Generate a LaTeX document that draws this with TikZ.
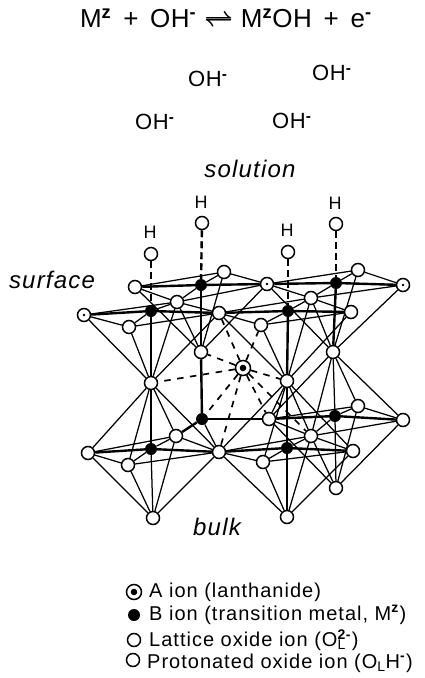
\documentclass[tikz,border=0pt]{standalone}
\usepackage{fontspec}
\setmainfont{Liberation Sans}
\usetikzlibrary{backgrounds}
\tikzset{
    oxide/.style={circle,draw,fill=white,line width=1.5pt,inner sep=0pt,minimum size=13pt},
    core/.style={circle,fill=black,inner sep=0pt,minimum size=#1},
    protonated/.style={oxide,label={[core=2.6pt]center:{}}},
    bion/.style={circle,fill=black,inner sep=0pt,minimum size=12pt},
    aion/.style={oxide,minimum size=15pt,label={[core=6.6pt]center:{}}},
    bond/.style={line width=1.25pt},
    heavy/.style={line width=2.4pt},
    hbond/.style={line width=2.4pt,dash pattern=on 7pt off 4pt},
    abond/.style={line width=1.7pt,dash pattern=on 6.5pt off 6.5pt},
    txt/.style={inner sep=0pt,font=\fontsize{22}{22}\selectfont\addfontfeatures{LetterSpace=3}},
    htxt/.style={inner sep=0pt,font=\fontsize{18}{18}\selectfont},
    place/.style={inner sep=0pt,font=\fontsize{24}{24}\selectfont\itshape\addfontfeatures{LetterSpace=5}},
    keytxt/.style={inner sep=0pt,anchor=west,font=\fontsize{20}{22}\selectfont\addfontfeatures{LetterSpace=5}},
}
\newcommand{\chg}[1]{\textsuperscript{\textbf{#1}}}
\begin{document}
\begin{tikzpicture}[x=1pt,y=-1pt]
    \useasboundingbox (0,0) rectangle (424,678);
    % oxide ions
    \foreach \name/\x/\y in {ua/135/287,ub/224/272,uc/358/270,ud/177/302,ue/311/298,uf/219/313,ug/351/312,uh/129/327,ui/261/325,
        ma/151/383,mb/201/352,mc/287/381,md/333/352,la/88/453,lb/176/436,lc/128/465,ld/219/452,le/269/419,lf/311/436,
        lg/358/406,lh/403/420,li/353/451,lj/263/462,lk/153/518,ll/287/517,lm/336/488,oa/151/254,ob/202/223,oc/288/252,od/336/224}
        \node[oxide] (\name) at (\x,\y) {};
    \foreach \name/\x/\y in {pa/84/315,pb/267/284,pc/403/285}
        \node[protonated] (\name) at (\x,\y) {};
    % B ions
    \foreach \name/\x/\y in {bua/151/311,bub/201/285,buc/288/311,bud/336/283,bla/151/449,blb/202/419,blc/287/448,bld/335/416}
        \node[bion] (\name) at (\x,\y) {};
    \node[aion] (aa) at (243,368) {};
    \begin{pgfonlayer}{background}
        % equator, then metal to equator, then apex fans
        \foreach \b/\l/\f/\r/\k in {bua/pa/uh/uf/ud,bub/ua/ud/pb/ub,buc/uf/ui/ug/ue,bud/pb/ue/pc/uc,
            bla/la/lc/ld/lb,blc/ld/lj/li/lf,bld/le/lf/lh/lg}{
            \draw[bond] (\l) -- (\f) -- (\r) -- (\k) -- (\l);
            \draw[heavy] (\l) -- (\b) -- (\r);
            \draw[bond] (\f) -- (\b) -- (\k);
        }
        \foreach \a/\l/\f/\r/\k in {ma/pa/uh/uf/ud,mb/ua/ud/pb/ub,mc/uf/ui/ug/ue,md/pb/ue/pc/uc,
            ma/la/lc/ld/lb,lk/la/lc/ld/lb,mc/ld/lj/li/lf,ll/ld/lj/li/lf,md/le/lf/lh/lg,lm/le/lf/lh/lg}
            \foreach \i in {\l,\f,\r,\k}
                \draw[bond] (\a) -- (\i);
        \foreach \a/\b in {bua/ma,bub/mb,buc/mc,bud/md,mb/blb,blb/le,blb/lb}
            \draw[heavy] (\a) -- (\b);
        \foreach \a/\b in {bla/ma,bla/lk,blc/mc,blc/ll,bld/md,bld/lm,blb/ld,mc/le}
            \draw[bond] (\a) -- (\b);
        \foreach \a/\b in {oa/bua,ob/bub,oc/buc,od/bud}
            \draw[hbond] (\a) -- (\b);
        \foreach \i in {ma,mb,uf,ui,mc,le,lf,ld,blb}
            \draw[abond] (aa) -- (\i);
    \end{pgfonlayer}
    % protons
    \node[htxt] (ha) at (150,232) {H};
    \node[htxt] (hb) at (201,202) {H};
    \node[htxt] (hc) at (287,230) {H};
    \node[htxt] (hd) at (335,203) {H};
    % labels
    \node[inner sep=0pt,font=\fontsize{26}{26}\selectfont\addfontfeatures{LetterSpace=2}] (eqn) at (226,18) {M\chg{z}\hspace{.45em}+\hspace{.45em}OH\chg{-}\hspace{.3em}{\boldmath$\rightleftharpoons$}\hspace{.3em}M\chg{z}OH\hspace{.45em}+\hspace{.45em}e\chg{-}};
    \node[txt] (oha) at (208,79) {OH\chg{-}};
    \node[txt] (ohb) at (332,73) {OH\chg{-}};
    \node[txt] (ohc) at (155,122) {OH\chg{-}};
    \node[txt] (ohd) at (292,121) {OH\chg{-}};
    \node[place] (solution) at (250,169) {solution};
    \node[place] (surface) at (52,280) {surface};
    \node[place] (bulk) at (217,527) {bulk};
    % key
    \node[aion] (ka) at (134,592) {};
    \node[bion] (kb) at (134,615) {};
    \node[oxide] (kc) at (134,640) {};
    \node[oxide] (kd) at (133,660) {};
    \node[keytxt] (ta) at (149,592) {A ion (lanthanide)};
    \node[keytxt] (tb) at (149,615) {B ion (transition metal, M\chg{z})};
    \node[keytxt] (tc) at (149,640) {Lattice oxide ion (O\rlap{\textsuperscript{\textbf{2-}}}\textsubscript{L}\hspace{.3em})};
    \node[keytxt] (td) at (147,663) {Protonated oxide ion (O\textsubscript{L}H\chg{-})};
\end{tikzpicture}
\end{document}
